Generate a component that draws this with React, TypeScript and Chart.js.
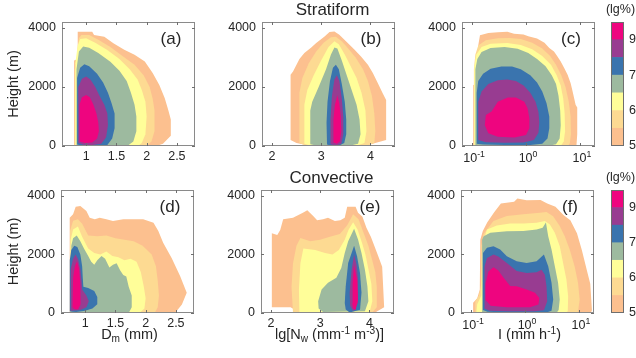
import React, { useEffect, useRef } from 'react';
import { Chart, registerables } from 'chart.js';
Chart.register(...registerables);

const W = 636;
const H = 358;
const FONT = "'Liberation Sans', Arial, Helvetica, sans-serif";

// colour levels, lowest (5 lg%) to highest
const LEVEL_COLORS = ['#FCC08F', '#FDDA92', '#FFFE99', '#9DBA9F', '#3A74AE', '#983C91', '#EE057F'];
const CB_TICKS = [0, 2, 4, 6];
const CB_LABELS = ['5', '6', '7', '9'];
const Y_TICKS = [0, 2000, 4000];
const DM_TICKS = [1, 1.5, 2, 2.5];
const NW_TICKS = [2, 3, 4];
const I_TICKS = [0.1, 1, 10];
const I_EXP = ['-1', '0', '1'];

// ---- Stratiform Dm (a)
const aL1 = [[0.8,0],[0.8,2900],[0.86,2950],[0.86,3870],[1.1,3870],[1.13,3760],[1.3,3700],[1.45,3480],[1.63,3260],[1.8,3090],[1.97,2860],[2.1,2470],[2.21,2070],[2.3,1620],[2.36,1200],[2.4,900],[2.4,350],[2.27,80],[2.16,0]];
const aL2 = [[0.81,0],[0.81,2600],[0.84,2700],[0.86,3300],[0.88,3650],[0.92,3760],[1.05,3760],[1.2,3600],[1.4,3350],[1.6,3050],[1.8,2750],[1.95,2400],[2.05,2000],[2.1,1600],[2.13,1200],[2.13,500],[2.08,150],[2.0,0]];
const aL3 = [[0.82,0],[0.82,2800],[0.86,3400],[0.9,3620],[1.0,3650],[1.15,3500],[1.35,3250],[1.55,2950],[1.72,2600],[1.85,2250],[1.92,1900],[1.98,1500],[2.0,1000],[1.98,400],[1.92,100],[1.86,0]];
const aL4 = [[0.84,0],[0.84,2600],[0.88,3200],[0.95,3370],[1.05,3330],[1.2,3150],[1.4,2850],[1.55,2550],[1.67,2200],[1.74,1800],[1.8,1400],[1.83,1000],[1.83,500],[1.78,150],[1.68,0]];
const aL5 = [[0.85,50],[0.85,2300],[0.9,2650],[0.97,2770],[1.05,2700],[1.18,2450],[1.28,2150],[1.36,1800],[1.42,1450],[1.47,1100],[1.47,600],[1.43,250],[1.35,30],[1.2,0],[0.95,0]];
const aL6 = [[0.87,100],[0.87,2000],[0.93,2280],[1.0,2350],[1.07,2250],[1.15,2000],[1.22,1700],[1.3,1400],[1.35,1100],[1.36,700],[1.33,300],[1.25,80],[1.1,30],[0.95,40]];
const aL7 = [[0.89,150],[0.89,1400],[0.93,1650],[1.0,1730],[1.06,1650],[1.12,1400],[1.17,1100],[1.2,800],[1.21,500],[1.18,250],[1.1,120],[0.98,100]];

// ---- Stratiform Nw (b)
const bL1 = [[2.38,200],[2.38,2410],[2.43,2520],[2.5,2750],[2.56,2950],[2.66,3150],[2.8,3340],[2.9,3490],[3.07,3710],[3.17,3860],[3.27,3880],[3.37,3770],[3.51,3540],[3.68,3260],[3.81,3030],[3.95,2750],[4.05,2470],[4.15,2130],[4.25,1790],[4.32,1560],[4.32,200],[4.1,100],[3.9,0],[2.8,0],[2.5,100]];
const bL2 = [[2.56,100],[2.56,1800],[2.62,2300],[2.75,2800],[2.9,3200],[3.05,3500],[3.2,3680],[3.3,3700],[3.42,3550],[3.55,3300],[3.7,3000],[3.85,2600],[3.95,2200],[4.03,1700],[4.08,1100],[4.1,500],[4.08,100],[3.9,0],[2.7,0]];
const bL3 = [[2.66,80],[2.66,1400],[2.72,1900],[2.85,2400],[3.0,2900],[3.15,3350],[3.27,3550],[3.36,3450],[3.48,3100],[3.6,2700],[3.72,2300],[3.82,1800],[3.9,1200],[3.92,500],[3.88,100],[3.7,0],[2.8,0]];
const bL4 = [[2.78,60],[2.78,1200],[2.82,1500],[2.95,2000],[3.1,2600],[3.2,3100],[3.27,3340],[3.33,3300],[3.42,2900],[3.52,2400],[3.62,1900],[3.72,1400],[3.78,900],[3.8,400],[3.75,80],[3.55,0],[2.95,0]];
const bL5 = [[3.12,50],[3.11,800],[3.13,1500],[3.18,2200],[3.24,2650],[3.3,2750],[3.36,2600],[3.42,2100],[3.48,1500],[3.51,900],[3.51,400],[3.47,100],[3.35,0],[3.2,10]];
const bL6 = [[3.19,60],[3.19,900],[3.22,1700],[3.27,2250],[3.32,2400],[3.37,2200],[3.42,1600],[3.45,1000],[3.45,400],[3.41,80],[3.3,20]];
const bL7 = [[3.25,120],[3.25,900],[3.28,1400],[3.33,1720],[3.37,1450],[3.4,1000],[3.41,500],[3.38,150],[3.32,80]];

// ---- Stratiform I (c)
const cL1 = [[0.105,0],[0.105,2070],[0.125,2100],[0.13,3400],[0.14,3750],[0.2,3830],[0.3,3850],[0.45,3870],[0.6,3800],[0.9,3780],[1.1,3720],[1.6,3640],[2.2,3500],[2.7,3320],[3.3,3200],[3.8,3040],[4.4,2860],[5.1,2640],[5.9,2410],[6.7,2130],[7.2,1900],[7.8,1620],[8.3,1400],[8.9,1300],[8.9,400],[8.6,0]];
const cL2 = [[0.108,0],[0.108,2600],[0.115,3100],[0.13,3400],[0.18,3580],[0.3,3650],[0.5,3660],[0.8,3620],[1.3,3500],[2.0,3300],[2.8,3050],[3.6,2750],[4.5,2400],[5.4,2000],[6.2,1500],[6.7,1000],[6.8,400],[6.5,100],[6.0,0]];
const cL3 = [[0.11,0],[0.11,2700],[0.12,3100],[0.15,3350],[0.22,3460],[0.45,3490],[0.8,3420],[1.3,3280],[2.0,3050],[2.9,2750],[3.7,2400],[4.4,2050],[4.9,1600],[5.2,1100],[5.3,500],[5.0,150],[4.4,0]];
const cL4 = [[0.115,30],[0.115,2600],[0.125,2950],[0.15,3180],[0.22,3320],[0.4,3350],[0.7,3290],[1.1,3150],[1.6,2950],[2.3,2700],[3.0,2400],[3.6,2100],[4.0,1700],[4.3,1200],[4.4,700],[4.2,250],[3.6,60],[2.5,0],[0.3,0]];
const cL5 = [[0.12,80],[0.122,1800],[0.13,2200],[0.16,2450],[0.22,2620],[0.35,2690],[0.55,2690],[0.8,2600],[1.2,2400],[1.6,2150],[2.0,1850],[2.4,1450],[2.7,1000],[2.7,600],[2.5,250],[2.0,80],[1.2,30],[0.4,30],[0.16,50]];
const cL6 = [[0.13,200],[0.13,1500],[0.15,1850],[0.2,2100],[0.3,2230],[0.45,2250],[0.65,2200],[0.9,2050],[1.2,1800],[1.5,1500],[1.7,1150],[1.76,800],[1.7,450],[1.4,200],[0.9,120],[0.4,110],[0.18,130]];
const cL7 = [[0.172,700],[0.18,1050],[0.23,1170],[0.3,1500],[0.46,1640],[0.65,1640],[0.93,1500],[1.07,1280],[1.15,940],[1.15,600],[1.0,370],[0.61,290],[0.3,310],[0.2,430]];

// ---- Convective Dm (d)
const dL1 = [[0.744,0],[0.744,3250],[0.8,3370],[0.843,3630],[0.92,3650],[1.02,3480],[1.075,3250],[1.16,3200],[1.24,3250],[1.35,3200],[1.46,3140],[1.63,3200],[1.79,3200],[1.96,3200],[2.13,3080],[2.21,2800],[2.29,2400],[2.43,1880],[2.57,1260],[2.68,690],[2.6,290],[2.51,60],[2.48,0]];
const dL2 = [[0.75,0],[0.75,2800],[0.8,3150],[0.88,3200],[0.95,3050],[1.05,2650],[1.2,2620],[1.35,2650],[1.5,2550],[1.65,2500],[1.8,2450],[1.95,2300],[2.1,2000],[2.17,1600],[2.2,1100],[2.22,600],[2.2,200],[2.15,0]];
const dL3 = [[0.76,0],[0.76,2500],[0.8,2850],[0.88,2950],[0.95,2600],[1.05,2200],[1.15,2050],[1.25,2000],[1.35,2100],[1.45,1950],[1.55,1900],[1.65,1800],[1.75,1850],[1.85,1750],[1.92,1400],[1.97,900],[2.0,500],[1.98,150],[1.9,0]];
const dL4 = [[0.77,0],[0.77,2300],[0.8,2550],[0.86,2650],[0.92,2450],[0.98,2200],[1.05,1950],[1.1,1750],[1.15,1650],[1.2,1800],[1.27,1950],[1.33,1850],[1.4,1550],[1.46,1650],[1.52,1700],[1.58,1450],[1.63,1300],[1.68,1250],[1.72,900],[1.77,600],[1.77,200],[1.72,0]];
const dL5 = [[0.745,50],[0.745,1800],[0.77,2150],[0.82,2300],[0.87,2250],[0.92,2000],[0.95,1600],[0.96,1200],[0.97,900],[1.05,850],[1.15,750],[1.2,550],[1.2,300],[1.12,150],[1.0,80],[0.85,30]];
const dL6 = [[0.76,80],[0.76,1500],[0.8,1850],[0.84,2000],[0.88,1850],[0.92,1500],[0.94,1100],[0.95,800],[1.02,600],[1.06,400],[1.02,200],[0.92,100]];
const dL7 = [[0.79,200],[0.8,1200],[0.83,1600],[0.865,1770],[0.9,1500],[0.92,1000],[0.93,600],[0.92,300],[0.88,120],[0.82,130]];

// ---- Convective Nw (e)
const eL1 = [[2.02,200],[2.02,2720],[2.13,2660],[2.19,2830],[2.25,3200],[2.45,3250],[2.65,3420],[2.74,3510],[2.86,3310],[2.94,3170],[3.06,3200],[3.16,3250],[3.3,3140],[3.41,3170],[3.5,3250],[3.55,3630],[3.72,3630],[3.77,3420],[3.86,3290],[3.94,2910],[4.03,2600],[4.16,2030],[4.26,1580],[4.3,200],[4.1,0],[2.6,0],[2.4,200]];
const eL2 = [[2.45,0],[2.42,900],[2.45,1700],[2.52,2300],[2.6,2560],[2.8,2450],[3.0,2500],[3.2,2600],[3.4,2700],[3.55,3000],[3.67,3370],[3.78,3200],[3.88,2750],[3.98,2300],[4.05,1850],[4.12,1400],[4.15,900],[4.15,200],[4.05,0]];
const eL3 = [[2.58,0],[2.57,800],[2.6,1700],[2.66,2200],[2.9,2150],[3.1,2050],[3.25,2000],[3.38,2150],[3.5,2500],[3.58,2850],[3.67,3100],[3.76,2850],[3.85,2400],[3.92,2000],[3.98,1500],[4.04,1000],[4.06,400],[4.0,0]];
const eL4 = [[2.96,400],[3.03,800],[3.16,1030],[3.33,1200],[3.43,1540],[3.5,2050],[3.57,2450],[3.69,2880],[3.77,2510],[3.84,2050],[3.91,1480],[3.96,910],[3.98,400],[3.91,60],[3.06,30],[2.97,150]];
const eL5 = [[3.5,340],[3.52,910],[3.57,1710],[3.69,2300],[3.75,1940],[3.81,1370],[3.84,690],[3.81,110],[3.6,20],[3.52,120]];
const eL6 = [[3.6,690],[3.64,1480],[3.69,2000],[3.74,1650],[3.77,1140],[3.77,340],[3.67,60],[3.61,250]];
const eL7 = [[3.65,340],[3.66,1030],[3.69,1650],[3.75,1140],[3.77,460],[3.72,90],[3.67,150]];

// ---- Convective I (f)
const fL1 = [[0.109,0],[0.109,350],[0.13,500],[0.145,800],[0.148,2500],[0.165,2800],[0.2,3100],[0.27,3450],[0.357,3740],[0.627,3800],[0.722,3910],[1.07,3850],[1.94,3860],[2.58,3740],[3.67,3630],[5.22,3340],[6.92,3170],[9.18,2720],[11.3,2150],[14.0,1460],[16.2,1000],[17.4,90],[16.5,0]];
const fL2 = [[0.12,0],[0.12,400],[0.14,600],[0.155,1000],[0.155,2300],[0.17,2700],[0.26,3140],[0.46,3310],[0.93,3370],[1.89,3420],[2.5,3450],[3.32,3300],[4.4,2970],[5.45,2620],[6.73,2170],[8.3,1600],[9.6,1030],[10.3,460],[9.6,40],[9.0,0]];
const fL3 = [[0.125,0],[0.13,300],[0.155,600],[0.16,2300],[0.197,2850],[0.3,2990],[0.53,3060],[0.93,3060],[1.64,3080],[2.33,3140],[2.89,3020],[3.57,2740],[4.41,2280],[5.08,1710],[5.85,1140],[6.3,570],[6.2,60],[5.5,0]];
const fL4 = [[0.16,0],[0.16,2500],[0.171,2620],[0.227,2740],[0.46,2790],[0.93,2800],[1.64,2850],[2.12,2910],[2.44,3090],[2.69,2620],[3.1,2170],[3.57,1600],[4.1,1030],[4.4,460],[4.2,100],[3.83,0]];
const fL5 = [[0.166,100],[0.166,2050],[0.197,2230],[0.26,2280],[0.346,2170],[0.46,1940],[0.7,1770],[1.07,1710],[1.64,1770],[2.24,2000],[2.69,1600],[3.1,1030],[3.33,460],[3.1,80],[2.5,20],[0.5,20],[0.2,40]];
const fL6 = [[0.176,150],[0.178,1600],[0.197,1880],[0.261,2000],[0.32,1930],[0.46,1710],[0.7,1430],[1.07,1370],[1.64,1390],[2.02,1480],[2.33,1310],[2.5,910],[2.58,400],[2.24,90],[1.5,60],[0.5,60],[0.22,80]];
const fL7 = [[0.185,450],[0.185,1000],[0.21,1420],[0.26,1560],[0.32,1450],[0.4,1200],[0.53,920],[0.7,910],[1.07,800],[1.53,690],[1.84,510],[1.77,290],[1.23,200],[0.46,200],[0.23,250]];

const DM_TITLE = [{ t: 'D' }, { t: 'm', sub: true }, { t: ' (mm)' }];
const NW_TITLE = [{ t: 'lg[N' }, { t: 'w', sub: true }, { t: ' (mm' }, { t: '-1', sup: true }, { t: ' m' }, { t: '-3', sup: true }, { t: ')]' }];
const I_TITLE = [{ t: 'I (mm h' }, { t: '-1', sup: true }, { t: ')' }];

const PANELS = [
  { polys: [aL1, aL2, aL3, aL4, aL5, aL6, aL7], log: false, xMin: 0.6, xMax: 2.8, xTicks: DM_TICKS, box: [62, 22, 195, 146], label: '(a)', yTitle: true, xTitle: null, title: null },
  { polys: [bL1, bL2, bL3, bL4, bL5, bL6, bL7], log: false, xMin: 1.8, xMax: 4.5, xTicks: NW_TICKS, box: [262, 22, 395, 146], label: '(b)', yTitle: false, xTitle: null, title: 'Stratiform' },
  { polys: [cL1, cL2, cL3, cL4, cL5, cL6, cL7], log: true, xMin: 0.065, xMax: 19, xTicks: I_TICKS, box: [462, 22, 595, 146], label: '(c)', yTitle: false, xTitle: null, title: null },
  { polys: [dL1, dL2, dL3, dL4, dL5, dL6, dL7], log: false, xMin: 0.6, xMax: 2.8, xTicks: DM_TICKS, box: [61, 190, 194, 313], label: '(d)', yTitle: true, xTitle: DM_TITLE, title: null },
  { polys: [eL1, eL2, eL3, eL4, eL5, eL6, eL7], log: false, xMin: 1.8, xMax: 4.5, xTicks: NW_TICKS, box: [261, 190, 394, 313], label: '(e)', yTitle: false, xTitle: NW_TITLE, title: 'Convective' },
  { polys: [fL1, fL2, fL3, fL4, fL5, fL6, fL7], log: true, xMin: 0.065, xMax: 19, xTicks: I_TICKS, box: [461, 190, 594, 313], label: '(f)', yTitle: false, xTitle: I_TITLE, title: null },
];
const COLORBARS = [[611, 22, 624, 146], [611, 190, 624, 313]];

const TEXT = '#262626';
const TICK_SIZE = 12.5;

function drawRich(ctx: any, segs: any[], cx: number, cy: number, size: number) {
  const small = size * 0.7;
  const widths = segs.map((s) => {
    ctx.font = `${s.sub || s.sup ? small : size}px ${FONT}`;
    return ctx.measureText(s.t).width;
  });
  const total = widths.reduce((a, b) => a + b, 0);
  let x = cx - total / 2;
  const base = cy + size * 0.36;
  ctx.textAlign = 'left';
  ctx.textBaseline = 'alphabetic';
  segs.forEach((s, i) => {
    ctx.font = `${s.sub || s.sup ? small : size}px ${FONT}`;
    const dy = s.sub ? size * 0.22 : s.sup ? -size * 0.38 : 0;
    ctx.fillText(s.t, x, base + dy);
    x += widths[i];
  });
}

const zeroPad = (s: any) => {
  s.paddingTop = 0; s.paddingBottom = 0; s.paddingLeft = 0; s.paddingRight = 0;
};

const panelDeco = {
  id: 'panelDeco',
  afterDraw(chart: any, _a: any, o: any) {
    const { ctx, chartArea: ca } = chart;
    const xs = chart.scales.x;
    const ys = chart.scales.y;
    ctx.save();
    ctx.strokeStyle = '#8a8a8a';
    ctx.lineWidth = 1;
    ctx.strokeRect(ca.left + 0.5, ca.top + 0.5, ca.right - ca.left - 1, ca.bottom - ca.top - 1);
    ctx.strokeStyle = '#6e6e6e';
    ctx.beginPath();
    for (const t of xs.ticks) {
      const px = Math.round(xs.getPixelForValue(t.value)) + 0.5;
      ctx.moveTo(px, ca.bottom); ctx.lineTo(px, ca.bottom - 3);
      ctx.moveTo(px, ca.top); ctx.lineTo(px, ca.top + 3);
    }
    for (const t of ys.ticks) {
      const py = Math.round(ys.getPixelForValue(t.value)) + 0.5;
      ctx.moveTo(ca.left, py); ctx.lineTo(ca.left + 3, py);
      ctx.moveTo(ca.right, py); ctx.lineTo(ca.right - 3, py);
    }
    ctx.stroke();
    ctx.fillStyle = TEXT;
    if (o.log) {
      xs.ticks.forEach((t: any, i: number) => {
        const px = xs.getPixelForValue(t.value);
        drawRich(ctx, [{ t: '10' }, { t: I_EXP[i], sup: true }], px + 2, ca.bottom + 11, TICK_SIZE);
      });
    }
    // panel label
    ctx.font = `17px ${FONT}`;
    ctx.textAlign = 'center';
    ctx.textBaseline = 'middle';
    ctx.fillText(o.label, ca.right - 24, ca.top + 17);
    if (o.title) {
      ctx.fillText(o.title, (ca.left + ca.right) / 2 + 4, ca.top - 12);
    }
    if (o.xTitle) {
      drawRich(ctx, o.xTitle, (ca.left + ca.right) / 2 + 2, ca.bottom + 21, 14.5);
    }
    if (o.yTitle) {
      ctx.save();
      ctx.translate(14, (ca.top + ca.bottom) / 2);
      ctx.rotate(-Math.PI / 2);
      ctx.font = `14.5px ${FONT}`;
      ctx.textAlign = 'center';
      ctx.textBaseline = 'middle';
      ctx.fillText('Height (m)', 0, 0);
      ctx.restore();
    }
    ctx.restore();
  },
};

const cbDeco = {
  id: 'cbDeco',
  afterDraw(chart: any) {
    const { ctx, chartArea: ca } = chart;
    ctx.save();
    ctx.strokeStyle = '#6e6e6e';
    ctx.lineWidth = 1;
    ctx.strokeRect(ca.left + 0.5, ca.top + 0.5, ca.right - ca.left - 1, ca.bottom - ca.top - 1);
    ctx.fillStyle = TEXT;
    ctx.font = `12.5px ${FONT}`;
    ctx.textAlign = 'center';
    ctx.textBaseline = 'middle';
    ctx.fillText('(lg%)', (ca.left + ca.right) / 2 + 3, ca.top - 12);
    ctx.restore();
  },
};

function panelConfig(p: any): any {
  const [L, T, R, B] = p.box;
  const YW = 40;
  const XH = 20;
  const datasets = p.polys.map((poly: number[][], lvl: number) => ({
    data: poly.map(([x, y]) => ({ x, y })),
    backgroundColor: LEVEL_COLORS[lvl],
    borderColor: LEVEL_COLORS[lvl],
    borderWidth: 0,
    pointRadius: 0,
    showLine: true,
    fill: 'shape',
    tension: 0,
    order: 7 - lvl,
  }));
  const tickFont = { size: TICK_SIZE, family: FONT };
  return {
    type: 'scatter',
    data: { datasets },
    plugins: [panelDeco],
    options: {
      responsive: false,
      animation: false,
      devicePixelRatio: 1,
      events: [],
      layout: { padding: { left: L - YW, top: T, right: W - R, bottom: H - B - XH } },
      plugins: {
        legend: { display: false },
        tooltip: { enabled: false },
        panelDeco: { label: p.label, title: p.title, xTitle: p.xTitle, yTitle: p.yTitle, log: p.log },
      },
      scales: {
        x: {
          type: p.log ? 'logarithmic' : 'linear',
          min: p.xMin,
          max: p.xMax,
          afterBuildTicks: (s: any) => { s.ticks = p.xTicks.map((v: number) => ({ value: v })); },
          afterFit: (s: any) => { s.height = XH; zeroPad(s); },
          grid: { display: false, drawTicks: false },
          border: { display: false },
          ticks: {
            autoSkip: false, maxRotation: 0, padding: 3, font: tickFont, color: TEXT,
            callback: p.log ? () => '' : (v: any) => String(v),
          },
        },
        y: {
          type: 'linear',
          min: 0,
          max: 4200,
          afterBuildTicks: (s: any) => { s.ticks = Y_TICKS.map((v) => ({ value: v })); },
          afterFit: (s: any) => { s.width = YW; zeroPad(s); },
          grid: { display: false, drawTicks: false },
          border: { display: false },
          ticks: { padding: 6, font: tickFont, color: TEXT, callback: (v: any) => String(v) },
        },
      },
    },
  };
}

function colorbarConfig(box: number[]): any {
  const [L, T, R, B] = box;
  const YW = 12;
  return {
    type: 'bar',
    data: {
      labels: [''],
      datasets: LEVEL_COLORS.map((c) => ({ data: [1], backgroundColor: c, borderWidth: 0, barPercentage: 1, categoryPercentage: 1 })),
    },
    plugins: [cbDeco],
    options: {
      responsive: false,
      animation: false,
      devicePixelRatio: 1,
      events: [],
      layout: { padding: { left: L, top: T, right: W - R - YW, bottom: H - B } },
      plugins: { legend: { display: false }, tooltip: { enabled: false } },
      scales: {
        x: { stacked: true, display: false },
        y: {
          stacked: true,
          position: 'right',
          min: 0,
          max: 7,
          afterBuildTicks: (s: any) => { s.ticks = CB_TICKS.map((v) => ({ value: v })); },
          afterFit: (s: any) => { s.width = YW; zeroPad(s); },
          grid: { display: false, drawTicks: false },
          border: { display: false },
          ticks: {
            padding: 5,
            font: { size: TICK_SIZE, family: FONT },
            color: TEXT,
            callback: (v: any) => { const i = CB_TICKS.indexOf(v); return i >= 0 ? CB_LABELS[i] : ''; },
          },
        },
      },
    },
  };
}

export default function App() {
  const refs = useRef<(HTMLCanvasElement | null)[]>([]);
  useEffect(() => {
    document.body.style.margin = '0';
    const charts: Chart[] = [];
    PANELS.forEach((p, i) => {
      const el = refs.current[i];
      if (el) charts.push(new Chart(el, panelConfig(p)));
    });
    COLORBARS.forEach((b, j) => {
      const el = refs.current[6 + j];
      if (el) charts.push(new Chart(el, colorbarConfig(b)));
    });
    return () => charts.forEach((c) => c.destroy());
  }, []);
  return (
    <div style={{ position: 'absolute', left: 0, top: 0, width: W, height: H, background: '#fff', overflow: 'hidden' }}>
      {Array.from({ length: 8 }).map((_, i) => (
        <canvas
          key={i}
          ref={(el) => { refs.current[i] = el; }}
          width={W}
          height={H}
          style={{ position: 'absolute', left: 0, top: 0, width: W, height: H }}
        />
      ))}
    </div>
  );
}
